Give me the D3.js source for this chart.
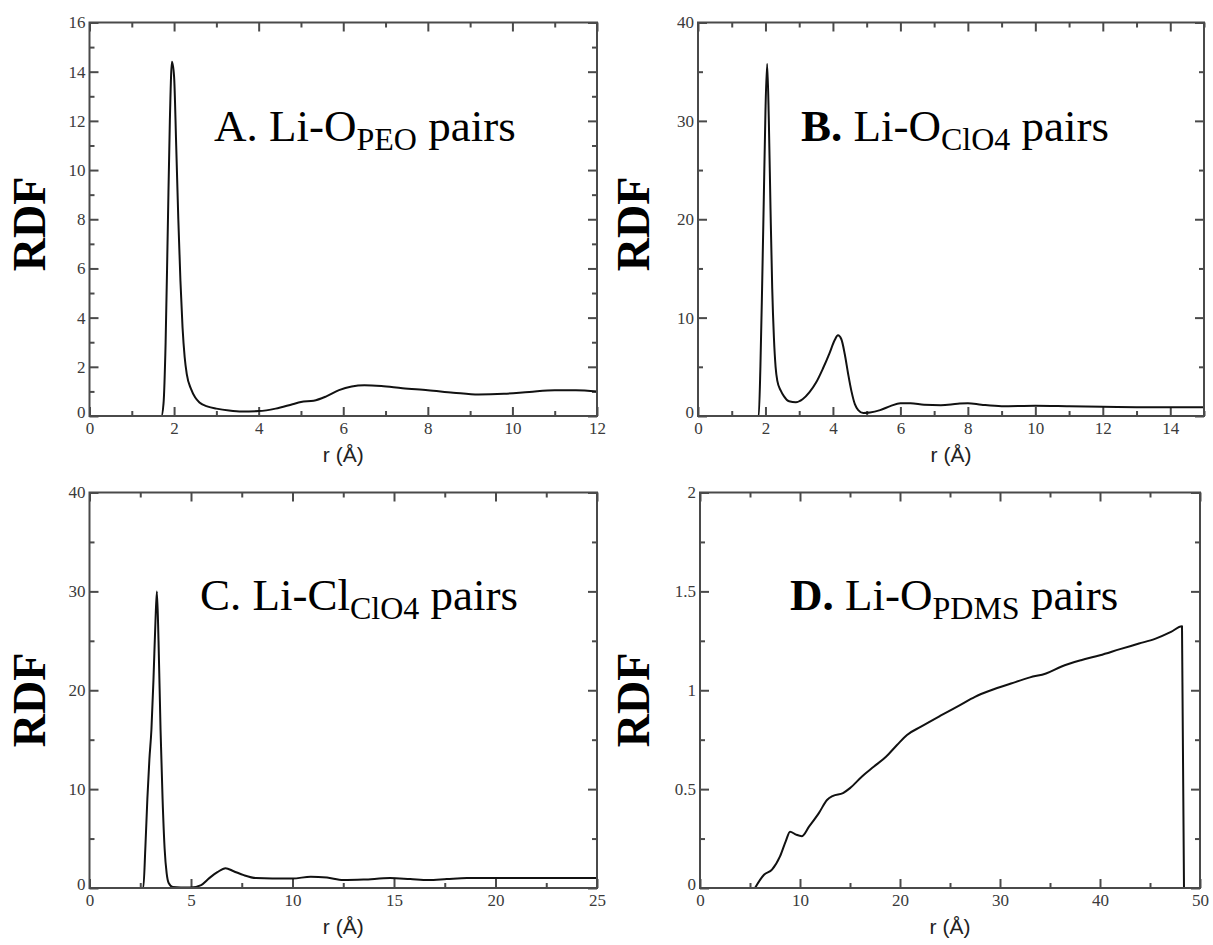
<!DOCTYPE html>
<html>
<head>
<meta charset="utf-8">
<script src="https://cdn.jsdelivr.net/npm/d3@7"></script>
<style>
  body { margin: 0; background: #fff; }
  svg text { font-family: "Liberation Serif", "Times New Roman", serif; }
  svg .tick text { font-family: "Liberation Serif", "Times New Roman", serif !important; font-size: 17px !important; }
</style>
</head>
<body>
<svg id="chart" width="1213" height="945"></svg>
<script>
// RDF curves, [r, g(r)]
const rdfA = [[1.6,0],[1.7,0],[1.75,0.5],[1.8,3],[1.85,7.5],[1.9,12],[1.95,14.4],[2.0,13.8],[2.05,11],[2.1,8],[2.15,5.5],[2.2,3.6],[2.25,2.4],[2.3,1.7],[2.4,1.1],[2.5,0.75],[2.6,0.55],[2.8,0.38],[3.0,0.3],[3.3,0.22],[3.6,0.18],[4.0,0.2],[4.4,0.3],[4.8,0.48],[5.0,0.57],[5.3,0.62],[5.6,0.8],[5.9,1.05],[6.2,1.2],[6.5,1.25],[6.9,1.22],[7.4,1.13],[8.0,1.05],[8.6,0.95],[9.2,0.87],[9.8,0.9],[10.4,0.98],[11.0,1.05],[11.5,1.05],[12.0,1.0]];
const rdfB = [[1.7,0],[1.8,0],[1.85,5],[1.9,13],[1.95,22],[2.0,31],[2.05,35.8],[2.1,30],[2.15,21],[2.2,13],[2.25,8],[2.3,5],[2.35,3.6],[2.45,2.6],[2.55,2.0],[2.7,1.5],[2.9,1.4],[3.1,1.7],[3.3,2.4],[3.5,3.4],[3.7,4.8],[3.9,6.4],[4.05,7.7],[4.15,8.2],[4.25,7.8],[4.35,6.3],[4.45,4.3],[4.55,2.5],[4.65,1.2],[4.75,0.6],[4.9,0.3],[5.1,0.35],[5.4,0.6],[5.7,1.0],[6.0,1.3],[6.3,1.3],[6.7,1.15],[7.2,1.1],[7.7,1.25],[8.0,1.3],[8.4,1.15],[9.0,1.0],[10.0,1.05],[11.0,1.0],[12.0,0.95],[13.0,0.9],[14.0,0.88],[15.0,0.9]];
const rdfC = [[2.5,0],[2.65,0],[2.75,4],[2.85,9],[2.95,13],[3.05,16],[3.15,21],[3.25,27],[3.32,30],[3.4,25],[3.5,16],[3.6,9],[3.7,4],[3.8,1.5],[3.9,0.5],[4.1,0.1],[4.5,0.05],[5.0,0.05],[5.5,0.3],[5.9,1.0],[6.3,1.6],[6.7,2.0],[7.1,1.7],[7.6,1.3],[8.2,1.0],[9.0,0.95],[10.0,0.95],[10.9,1.15],[11.7,1.05],[12.5,0.8],[13.5,0.85],[14.8,1.0],[15.8,0.9],[16.7,0.8],[17.6,0.9],[18.6,1.0],[20.0,1.0],[22.0,1.0],[25.0,1.0]];
const rdfD = [[5.5,0],[6.4,0.067],[7.2,0.093],[8.0,0.16],[8.6,0.24],[9.0,0.285],[9.6,0.27],[10.2,0.262],[10.9,0.31],[11.9,0.38],[12.7,0.445],[13.3,0.466],[14.3,0.48],[15.0,0.505],[16.2,0.564],[17.4,0.614],[18.6,0.664],[19.7,0.723],[20.7,0.774],[22.1,0.816],[24.0,0.87],[26.0,0.925],[27.5,0.967],[29.1,1.0],[31.1,1.034],[33.0,1.065],[34.6,1.085],[36.1,1.119],[38.1,1.152],[40.0,1.177],[42.0,1.208],[43.9,1.236],[45.5,1.26],[47.1,1.295],[48.2,1.324],[48.4,0]];

// tick labels
const xTicksA = [0, 2, 4, 6, 8, 10, 12];
const yTicksA = [0, 2, 4, 6, 8, 10, 12, 14, 16];
const xTicksB = [0, 2, 4, 6, 8, 10, 12, 14];
const yTicksB = [0, 10, 20, 30, 40];
const xTicksC = [0, 5, 10, 15, 20, 25];
const yTicksC = [0, 10, 20, 30, 40];
const xTicksD = [0, 10, 20, 30, 40, 50];
const yTicksD = [0, 0.5, 1, 1.5, 2];

// panel titles: letter, species, subscript
const titles = [
  ['A', 'Li-O', 'PEO'],
  ['B', 'Li-O', 'ClO4'],
  ['C', 'Li-Cl', 'ClO4'],
  ['D', 'Li-O', 'PDMS']
];

const panels = [
  { data: rdfA, xMax: 12, yMax: 16, xTicks: xTicksA, yTicks: yTicksA, xMinor: 1, yMinor: 1,
    box: [89.5, 597, 22.5, 416], title: titles[0], boldLetter: false, tx: 214, ty: 141, rdfX: 45, rdfY: 224 },
  { data: rdfB, xMax: 15, yMax: 40, xTicks: xTicksB, yTicks: yTicksB, xMinor: 1, yMinor: 5,
    box: [698, 1204, 22.5, 416], title: titles[1], boldLetter: true, tx: 801, ty: 141, rdfX: 649, rdfY: 224 },
  { data: rdfC, xMax: 25, yMax: 40, xTicks: xTicksC, yTicks: yTicksC, xMinor: 2.5, yMinor: 5,
    box: [89.5, 597, 492.5, 888], title: titles[2], boldLetter: false, tx: 200, ty: 610, rdfX: 45, rdfY: 700 },
  { data: rdfD, xMax: 50, yMax: 2, xTicks: xTicksD, yTicks: yTicksD, xMinor: 5, yMinor: 0.25,
    box: [700, 1200, 492.5, 888], title: titles[3], boldLetter: true, tx: 790, ty: 610, rdfX: 649, rdfY: 700 }
];

const svg = d3.select('#chart');
const frameColor = '#4a4a4a';

// one group per tick set so minor and major ticks don't share a data join
const addAxis = (g, axis, tx, ty, values, size, labels, pad) => {
  const a = g.append('g')
    .attr('transform', `translate(${tx},${ty})`)
    .call(axis.tickValues(values).tickSize(size).tickSizeOuter(0).tickPadding(pad || 3)
      .tickFormat(labels ? d => String(d) : () => ''));
  a.attr('font-family', null).attr('font-size', null);
  a.select('.domain').remove();
  a.selectAll('.tick line').attr('stroke', frameColor).attr('stroke-width', 2);
  a.selectAll('.tick text').attr('fill', '#3a3a3a');
  return a;
};

panels.forEach(p => {
  const [x0, x1, y0, y1] = p.box;
  const x = d3.scaleLinear().domain([0, p.xMax]).range([x0, x1]);
  const y = d3.scaleLinear().domain([0, p.yMax]).range([y1, y0]);
  const g = svg.append('g');

  const xMinorTicks = d3.range(0, p.xMax + 1e-9, p.xMinor).filter(v => !p.xTicks.includes(v));
  const yMinorTicks = d3.range(0, p.yMax + 1e-9, p.yMinor).filter(v => !p.yTicks.includes(v));

  addAxis(g, d3.axisBottom(x), 0, y1, xMinorTicks, -5, false);
  addAxis(g, d3.axisBottom(x), 0, y1, p.xTicks, -9, true, 6);
  addAxis(g, d3.axisTop(x), 0, y0, xMinorTicks, -5, false);
  addAxis(g, d3.axisTop(x), 0, y0, p.xTicks, -9, false);
  addAxis(g, d3.axisLeft(y), x0, 0, yMinorTicks, -5, false);
  const yAx = addAxis(g, d3.axisLeft(y), x0, 0, p.yTicks, -9, true, 4);
  addAxis(g, d3.axisRight(y), x1, 0, yMinorTicks, -5, false);
  addAxis(g, d3.axisRight(y), x1, 0, p.yTicks, -9, false);

  // the y "0" sits a little above the axis line
  yAx.selectAll('.tick text').filter(d => d === 0).attr('dy', '0.1em');

  // curve
  g.append('path')
    .datum(p.data)
    .attr('fill', 'none')
    .attr('stroke', '#111')
    .attr('stroke-width', 2)
    .attr('stroke-linejoin', 'round')
    .attr('d', d3.line().x(d => x(d[0])).y(d => y(d[1])).curve(d3.curveMonotoneX));

  // frame
  g.append('rect')
    .attr('x', x0).attr('y', y0)
    .attr('width', x1 - x0).attr('height', y1 - y0)
    .attr('fill', 'none')
    .attr('stroke', frameColor)
    .attr('stroke-width', 2);

  // x axis title
  g.append('text')
    .attr('x', (x0 + x1) / 2)
    .attr('y', y1 + 46)
    .attr('text-anchor', 'middle')
    .attr('fill', '#222')
    .style('font-family', '"Liberation Sans", Arial, sans-serif')
    .style('font-size', '21px')
    .text('r (Å)');

  // y axis title
  g.append('text')
    .attr('transform', `translate(${p.rdfX},${p.rdfY}) rotate(-90)`)
    .attr('text-anchor', 'middle')
    .attr('fill', '#000')
    .style('font-size', '46px')
    .style('font-weight', 'bold')
    .text('RDF');

  // panel title with subscript
  const t = g.append('text')
    .attr('x', p.tx).attr('y', p.ty)
    .attr('fill', '#000')
    .style('font-size', '45px');
  t.append('tspan').style('font-weight', p.boldLetter ? 'bold' : 'normal').text(p.title[0] + '.');
  t.append('tspan').text(' ' + p.title[1]);
  t.append('tspan').attr('dy', 9).style('font-size', '32px').text(p.title[2]);
  t.append('tspan').attr('dy', -9).text(' pairs');
});
</script>
</body>
</html>
